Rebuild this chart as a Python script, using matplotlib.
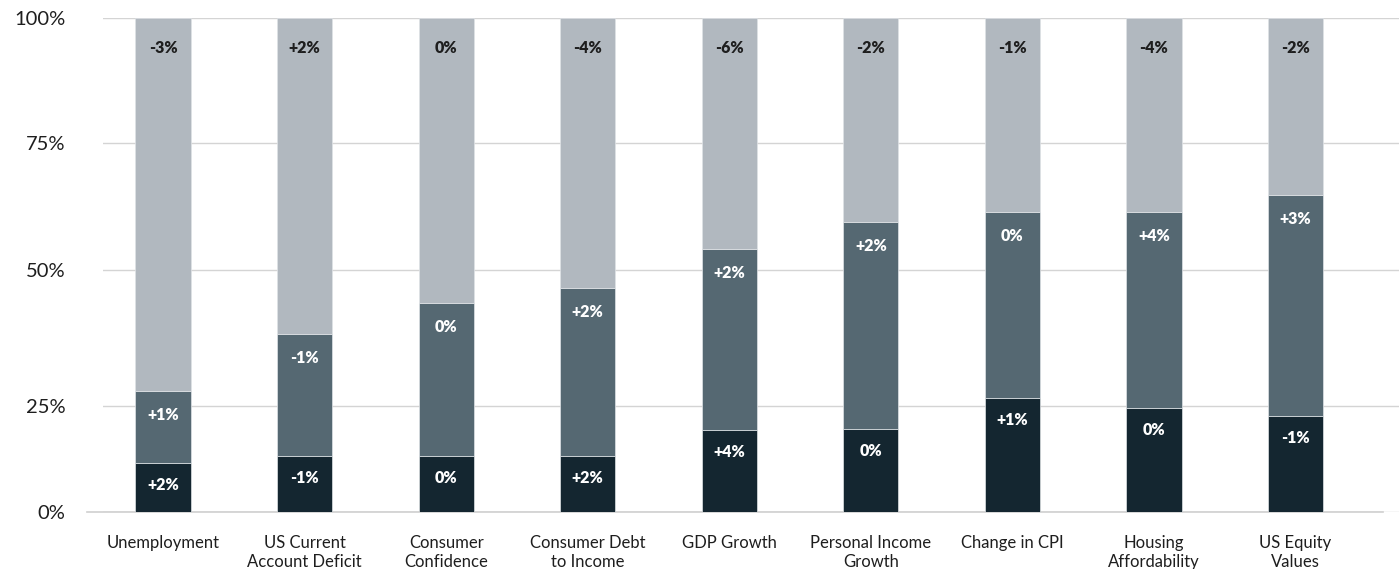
import numpy as np
import matplotlib
matplotlib.use("Agg")
import matplotlib.pyplot as plt
from matplotlib.transforms import ScaledTranslation

# Indicators shown along the x axis
categories = [
    "Unemployment",
    "US Current\nAccount Deficit",
    "Consumer\nConfidence",
    "Consumer Debt\nto Income",
    "GDP Growth",
    "Personal Income\nGrowth",
    "Change in CPI",
    "Housing\nAffordability",
    "US Equity\nValues",
]

# Share of each bar (percent), bottom to top
share_low = [11.5, 13.1, 13.1, 13.3, 19.3, 19.5, 26.5, 24.6, 22.6]
share_mid = [16.3, 25.1, 30.8, 33.3, 34.8, 39.9, 35.0, 36.8, 42.2]
share_high = [100 - a - b for a, b in zip(share_low, share_mid)]

# Change annotations printed inside each segment
change_low = ["+2%", "-1%", "0%", "+2%", "+4%", "0%", "+1%", "0%", "-1%"]
change_mid = ["+1%", "-1%", "0%", "+2%", "+2%", "+2%", "0%", "+4%", "+3%"]
change_high = ["-3%", "+2%", "0%", "-4%", "-6%", "-2%", "-1%", "-4%", "-2%"]

y_ticks = [0, 25, 50, 75, 100]
y_tick_labels = ["0%", "25%", "50%", "75%", "100%"]

# Axis layout: where each tick sits along the axis height (0 = bottom, 1 = top)
tick_frac = [0.0, 0.2146, 0.4899, 0.747, 1.0]

COL_LOW = "#142630"
COL_MID = "#556872"
COL_HIGH = "#b1b8bf"
GRID = "#d4d4d4"
TEXT = "#1e1e1e"

plt.rcParams["font.family"] = ["Lato", "DejaVu Sans"]

fig = plt.figure(figsize=(13.99, 5.69), dpi=100)
ax = fig.add_axes([103 / 1399, 57 / 569, 1296 / 1399, 494 / 569])


def fwd(v):
    return np.interp(v, y_ticks, tick_frac)


def inv(t):
    return np.interp(t, tick_frac, y_ticks)


ax.set_yscale("function", functions=(fwd, inv))
ax.set_ylim(0, 100)

x = np.arange(len(categories))
ax.set_xlim(-0.424, 8.731)
width = 0.39

low = np.array(share_low)
mid = np.array(share_mid)
high = np.array(share_high)

edge = dict(edgecolor="#dfe3e6", linewidth=0.5)
ax.bar(x, low, width, color=COL_LOW, zorder=3, **edge)
ax.bar(x, mid, width, bottom=low, color=COL_MID, zorder=3, **edge)
ax.bar(x, high, width, bottom=low + mid, color=COL_HIGH, zorder=3, **edge)

lab = dict(ha="center", va="center", fontsize=11.5, fontweight="heavy",
           textcoords="offset pixels", zorder=4)
for i in range(len(categories)):
    ax.annotate(change_low[i], (x[i], low[i]), xytext=(0, -22), color="white", **lab)
    ax.annotate(change_mid[i], (x[i], low[i] + mid[i]), xytext=(0, -24), color="white", **lab)
    ax.annotate(change_high[i], (x[i], 100), xytext=(0, -30), color=TEXT, **lab)

# Horizontal guides
ax.set_yticks(y_ticks)
ax.set_yticklabels(y_tick_labels)
ax.yaxis.grid(True, color=GRID, linewidth=1.0, zorder=0)
ax.set_axisbelow(True)

# Baseline, shifted slightly left of the guides
shift = ScaledTranslation(-16 / 100, 0, fig.dpi_scale_trans)
ax.plot([0, 1], [0, 0], transform=ax.get_yaxis_transform() + shift,
        color="#cfcfcf", linewidth=1.2, clip_on=False, zorder=2)

for s in ax.spines.values():
    s.set_visible(False)

ax.tick_params(axis="y", length=0, pad=27, labelsize=14.5, labelcolor=TEXT)
ax.tick_params(axis="x", length=0, pad=16.5, labelsize=12, labelcolor=TEXT)
ax.set_xticks(x)
ax.set_xticklabels(categories, linespacing=1.22, va="top")

fig.savefig("out.png", dpi=100, facecolor="white")
